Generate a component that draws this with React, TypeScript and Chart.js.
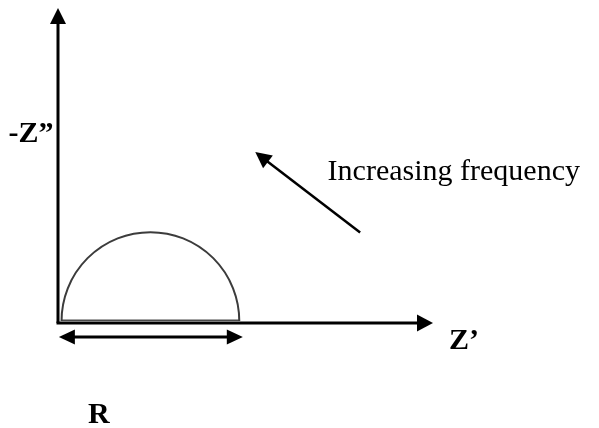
import React, { useEffect, useRef } from "react";
import { Chart, registerables } from "chart.js";

Chart.register(...registerables);

// Nyquist schematic: charge-transfer resistance semicircle
const resistanceR = 100; // diameter of the semicircle (Ω)
const offsetRs = 2; // high-frequency intercept (Ω)
const diameterZReal = [2, 102];
const diameterZImag = [0, 0];
const axisTitleX = "Z\u2019";
const axisTitleY = "-Z\u201D";
const arrowText = "Increasing frequency";
const diameterText = "R";
const xRange = [0, 211];
const yRange = [0, 177];

const FONT_SERIF = '"Liberation Serif", "Times New Roman", serif';

function arrowHead(
  ctx: CanvasRenderingContext2D,
  tx: number,
  ty: number,
  angle: number,
  len: number,
  half: number
) {
  ctx.save();
  ctx.translate(tx, ty);
  ctx.rotate(angle);
  ctx.beginPath();
  ctx.moveTo(0, 0);
  ctx.lineTo(-len, -half);
  ctx.lineTo(-len, half);
  ctx.closePath();
  ctx.fill();
  ctx.restore();
}

function residualEnd() {
  return offsetRs + resistanceR + 2;
}

const schematicPlugin = {
  id: "nyquistSchematic",
  afterDatasetsDraw(chart: any) {
    const { ctx, chartArea, scales } = chart;
    const xs = scales.x;
    const ys = scales.y;
    const px = (v: number) => xs.getPixelForValue(v);
    const py = (v: number) => ys.getPixelForValue(v);
    ctx.save();

    // semicircle
    const cx = px(offsetRs + resistanceR / 2);
    const cy = py(0);
    const r = px(offsetRs + resistanceR) - cx;
    ctx.strokeStyle = "#3c3c3c";
    ctx.lineWidth = 2;
    ctx.beginPath();
    ctx.arc(cx, cy, r, Math.PI, 2 * Math.PI);
    ctx.stroke();

    // axes
    ctx.strokeStyle = "#000";
    ctx.fillStyle = "#000";
    ctx.lineWidth = 3;
    const x0 = px(0);
    const y0 = py(0) + 2;
    ctx.beginPath();
    ctx.moveTo(x0 - 1.5, y0);
    ctx.lineTo(chartArea.right - 12, y0);
    ctx.stroke();
    arrowHead(ctx, chartArea.right, y0, 0, 16, 8.5);
    ctx.beginPath();
    ctx.moveTo(x0, y0);
    ctx.lineTo(x0, chartArea.top + 12);
    ctx.stroke();
    arrowHead(ctx, x0, chartArea.top, -Math.PI / 2, 16, 8);

    // double arrow under semicircle (R)
    const ya = py(-9);
    const xl = px(0.5);
    const xr = px(residualEnd());
    ctx.beginPath();
    ctx.moveTo(xl + 10, ya);
    ctx.lineTo(xr - 10, ya);
    ctx.stroke();
    arrowHead(ctx, xl, ya, Math.PI, 16, 7.5);
    arrowHead(ctx, xr, ya, 0, 16, 7.5);

    // increasing frequency arrow
    const sx = px(170);
    const sy = py(50);
    const tx = px(111);
    const ty = py(95.5);
    const ang = Math.atan2(ty - sy, tx - sx);
    ctx.lineWidth = 2.5;
    ctx.beginPath();
    ctx.moveTo(sx, sy);
    ctx.lineTo(tx - Math.cos(ang) * 10, ty - Math.sin(ang) * 10);
    ctx.stroke();
    arrowHead(ctx, tx, ty, ang, 16, 8);

    // texts
    ctx.textBaseline = "alphabetic";
    ctx.font = `30px ${FONT_SERIF}`;
    ctx.textAlign = "left";
    ctx.fillText(arrowText, px(151.7), py(79.8));

    ctx.font = `bold 30px ${FONT_SERIF}`;
    ctx.textAlign = "right";
    ctx.fillText(axisTitleY, px(-2.5), py(101));
    ctx.textAlign = "left";
    ctx.fillText(axisTitleX, px(220), py(-15.7));
    ctx.fillText(diameterText, px(16.9), py(-57.5));

    ctx.restore();
  },
};

export default function App() {
  const canvasRef = useRef<HTMLCanvasElement | null>(null);

  useEffect(() => {
    if (!canvasRef.current) return;
    const chart = new Chart(canvasRef.current, {
      type: "scatter",
      data: {
        datasets: [
          {
            label: "R",
            data: diameterZReal.map((x, i) => ({ x, y: diameterZImag[i] })),
            showLine: true,
            borderColor: "#4a4a4a",
            borderWidth: 3,
            pointRadius: 0,
            fill: false,
          },
        ],
      },
      options: {
        animation: false,
        responsive: false,
        events: [],
        layout: { padding: { left: 58, right: 166, top: 8, bottom: 107 } },
        plugins: {
          legend: { display: false },
          tooltip: { enabled: false },
          title: { display: false },
        },
        scales: {
          x: { type: "linear", min: xRange[0], max: xRange[1], display: false },
          y: { type: "linear", min: yRange[0], max: yRange[1], display: false },
        },
      },
      plugins: [schematicPlugin],
    });
    return () => chart.destroy();
  }, []);

  return (
    <div style={{ position: "fixed", left: 0, top: 0, width: 599, height: 428, background: "#fff" }}>
      <canvas ref={canvasRef} width={599} height={428} style={{ display: "block" }} />
    </div>
  );
}
